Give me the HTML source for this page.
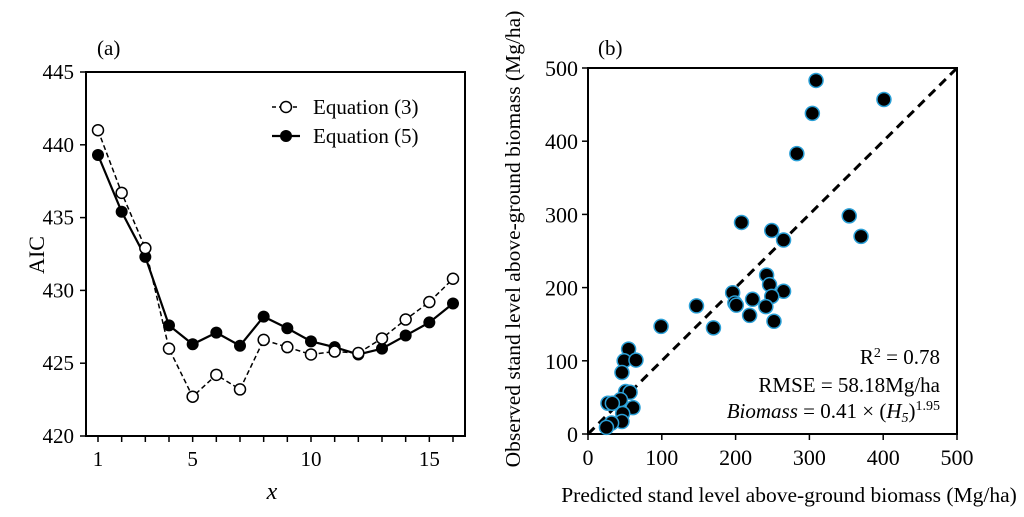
<!DOCTYPE html>
<html><head><meta charset="utf-8"><style>
body{margin:0;background:#fff;}
svg{display:block;font-family:"Liberation Serif",serif;}
</style></head><body>
<svg id="c" width="1024" height="517" xmlns="http://www.w3.org/2000/svg"></svg>
<script>
const xCats=[1,2,3,4,5,6,7,8,9,10,11,12,13,14,15,16];
const eq3=[441,436.7,432.9,426,422.7,424.2,423.2,426.6,426.1,425.6,425.8,425.7,426.7,428,429.2,430.8];
const eq5=[439.3,435.4,432.3,427.6,426.3,427.1,426.2,428.2,427.4,426.5,426.1,425.6,426,426.9,427.8,429.1];
const aTicksY=[420,425,430,435,440,445];
const aTicksXLabels=[1,5,10,15];
const predicted=[309,401,304,283,354,370,208,249,265,242,246,265,196,249,223,199,201,147,241,219,252,99,170,55,49,65,46,51,57,44,27,33,61,47,46,32,25];
const observed=[483,457,438,383,298,270,289,278,265,217,204,195,193,188,184,179,176,175,174,162,154,147,145,116,100,101,84,58,57,47,42,42,36,28,17,15,9];
const bTicks=[0,100,200,300,400,500];

const NS="http://www.w3.org/2000/svg";
const svg=document.getElementById('c');
function mk(tag,attrs,parent){const e=document.createElementNS(NS,tag);for(const k in attrs)e.setAttribute(k,attrs[k]);(parent||svg).appendChild(e);return e;}
function txt(s,attrs,parent){const e=mk('text',attrs,parent);e.textContent=s;return e;}

// Panel A
const aL=86,aR=465,aT=72,aB=436;
const ax=v=>98+(v-1)*(453-98)/15;
const ay=v=>aB-(v-420)*(aB-aT)/25;
const gA=mk('g',{});


const fa=mk('rect',{x:aL,y:aT,width:aR-aL,height:aB-aT,fill:'none',stroke:'#000','stroke-width':2},gA);


aTicksY.forEach(v=>{
  mk('line',{x1:aL-6,x2:aL,y1:ay(v),y2:ay(v),stroke:'#000','stroke-width':1.5},gA);
  const t=txt(v,{x:aL-12,y:ay(v)+7,'text-anchor':'end','font-size':21},gA);
  
  
});
xCats.forEach(v=>{mk('line',{x1:ax(v),x2:ax(v),y1:aB,y2:aB+6,stroke:'#000','stroke-width':1.5},gA);});
aTicksXLabels.forEach(v=>{
  const t=txt(v,{x:ax(v),y:aB+30,'text-anchor':'middle','font-size':21},gA);
  
  
});
const l3=mk('polyline',{points:xCats.map((x,i)=>ax(x)+','+ay(eq3[i])).join(' '),fill:'none',stroke:'#000','stroke-width':1.5,'stroke-dasharray':'5,3'},gA);


const l5=mk('polyline',{points:xCats.map((x,i)=>ax(x)+','+ay(eq5[i])).join(' '),fill:'none',stroke:'#000','stroke-width':2.2},gA);


xCats.forEach((x,i)=>{
  const c=mk('circle',{cx:ax(x),cy:ay(eq5[i]),r:6,fill:'#000'},gA);
  
  
});
xCats.forEach((x,i)=>{
  const c=mk('circle',{cx:ax(x),cy:ay(eq3[i]),r:5.5,fill:'#fff',stroke:'#000','stroke-width':1.5},gA);
  
  
});
// legend
const lg=mk('g',{},gA);


mk('line',{x1:272,x2:300,y1:107,y2:107,stroke:'#000','stroke-width':1.5,'stroke-dasharray':'4,3'},lg);
mk('circle',{cx:286,cy:107,r:5.5,fill:'#fff',stroke:'#000','stroke-width':1.5},lg);
const le1=txt('Equation (3)',{x:313,y:114,'font-size':21},lg);


mk('line',{x1:272,x2:300,y1:136,y2:136,stroke:'#000','stroke-width':2.2},lg);
mk('circle',{cx:286,cy:136,r:6,fill:'#000'},lg);
const le2=txt('Equation (5)',{x:313,y:143,'font-size':21},lg);


const pa=txt('(a)',{x:97,y:55,'font-size':21},gA);


const ya=txt('AIC',{x:0,y:0,'font-size':22,'text-anchor':'middle',transform:'translate(44,255) rotate(-90)'},gA);


const xa=txt('x',{x:272,y:499,'font-size':24,'font-style':'italic','text-anchor':'middle'},gA);



// Panel B
const bL=588,bR=957,bT=68,bB=434;
const bx=v=>bL+v*(bR-bL)/500;
const by=v=>bB-v*(bB-bT)/500;
const gB=mk('g',{});


const fb=mk('rect',{x:bL,y:bT,width:bR-bL,height:bB-bT,fill:'none',stroke:'#000','stroke-width':2},gB);


bTicks.forEach(v=>{
  mk('line',{x1:bL-6,x2:bL,y1:by(v),y2:by(v),stroke:'#000','stroke-width':1.5},gB);
  mk('line',{x1:bx(v),x2:bx(v),y1:bB,y2:bB+6,stroke:'#000','stroke-width':1.5},gB);
  const t1=txt(v,{x:bL-10,y:by(v)+8,'text-anchor':'end','font-size':22},gB);
  
  
  const t2=txt(v,{x:bx(v),y:bB+31,'text-anchor':'middle','font-size':22},gB);
  
  
});
const d=mk('line',{x1:bx(0),y1:by(0),x2:bx(500),y2:by(500),stroke:'#000','stroke-width':3,'stroke-dasharray':'9,6'},gB);


predicted.forEach((p,i)=>{
  const c=mk('circle',{cx:bx(p),cy:by(observed[i]),r:7,fill:'#000',stroke:'#2a9fd6','stroke-width':1.5},gB);
  
  
});
const s1=txt('',{x:940,y:364,'text-anchor':'end','font-size':21},gB);
s1.innerHTML='R<tspan dy="-7" font-size="14">2</tspan><tspan dy="7"> = 0.78</tspan>';


const s2=txt('RMSE = 58.18Mg/ha',{x:940,y:392,'text-anchor':'end','font-size':21},gB);


const s3=txt('',{x:940,y:418,'text-anchor':'end','font-size':21},gB);
s3.innerHTML='<tspan font-style="italic">Biomass</tspan> = 0.41 × (<tspan font-style="italic">H</tspan><tspan font-style="italic" font-size="14" dy="4">5</tspan><tspan dy="-4">)</tspan><tspan dy="-8" font-size="14">1.95</tspan>';


const pb=txt('(b)',{x:598,y:55,'font-size':21},gB);


const yb=txt('Observed stand level above-ground biomass (Mg/ha)',{x:0,y:0,'font-size':21.5,'text-anchor':'middle',transform:'translate(520,239) rotate(-90)'},gB);


const xb=txt('Predicted stand level above-ground biomass (Mg/ha)',{x:789,y:502,'font-size':21.5,'text-anchor':'middle'},gB);


</script>
</body></html>
